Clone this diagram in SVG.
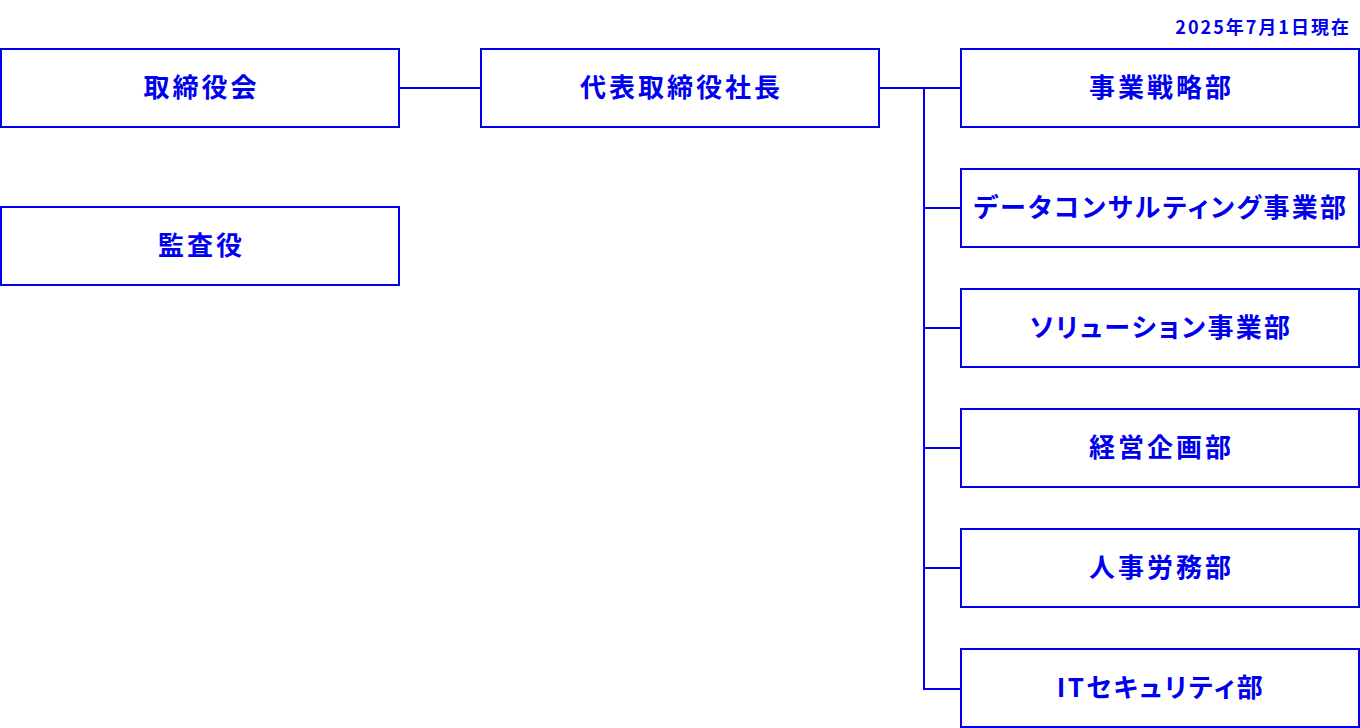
<svg xmlns="http://www.w3.org/2000/svg" width="1360" height="728" viewBox="0 0 1360 728">
<style>
.box{fill:#fff;stroke:#0000ee;stroke-width:2}
.lbl{font-family:"Noto Sans CJK JP","Noto Sans",sans-serif;font-weight:bold;font-size:26px;fill:#0000ee;text-anchor:middle;letter-spacing:3px;font-feature-settings:"palt"}
.kana{letter-spacing:2.3px}
.date{font-family:"Noto Sans CJK JP","Noto Sans",sans-serif;font-weight:bold;font-size:18px;fill:#0000ee;text-anchor:end;letter-spacing:2px}
.conn{fill:none;stroke:#0000ee;stroke-width:2}
</style>
<rect width="1360" height="728" fill="#fff"/>
<text class="date" x="1351" y="34">2025年7月1日現在</text>
<g id="connectors">
<line class="conn" x1="400" y1="88" x2="480" y2="88"/>
<line class="conn" x1="880" y1="88" x2="960" y2="88"/>
<polyline class="conn" points="924,88 924,689 960,689"/>
<line class="conn" x1="924" y1="208" x2="960" y2="208"/>
<line class="conn" x1="924" y1="328" x2="960" y2="328"/>
<line class="conn" x1="924" y1="448" x2="960" y2="448"/>
<line class="conn" x1="924" y1="568" x2="960" y2="568"/>
</g>
<g id="board"><rect class="box" x="1" y="49" width="398" height="78"/><text class="lbl" x="201.5" y="97">取締役会</text></g>
<g id="auditor"><rect class="box" x="1" y="207" width="398" height="78"/><text class="lbl" x="201.5" y="255">監査役</text></g>
<g id="president"><rect class="box" x="481" y="49" width="398" height="78"/><text class="lbl" x="681.5" y="97">代表取締役社長</text></g>
<g id="strategy"><rect class="box" x="961" y="49" width="398" height="78"/><text class="lbl" x="1161.5" y="97">事業戦略部</text></g>
<g id="dataconsulting"><rect class="box" x="961" y="169" width="398" height="78"/><text class="lbl kana" x="1161" y="217">データコンサルティング事業部</text></g>
<g id="solution"><rect class="box" x="961" y="289" width="398" height="78"/><text class="lbl kana" x="1161" y="337">ソリューション事業部</text></g>
<g id="planning"><rect class="box" x="961" y="409" width="398" height="78"/><text class="lbl" x="1161.5" y="457">経営企画部</text></g>
<g id="hr"><rect class="box" x="961" y="529" width="398" height="78"/><text class="lbl" x="1161.5" y="577">人事労務部</text></g>
<g id="itsecurity"><rect class="box" x="961" y="649" width="398" height="78"/><text class="lbl kana" x="1161" y="697">ITセキュリティ部</text></g>
</svg>
